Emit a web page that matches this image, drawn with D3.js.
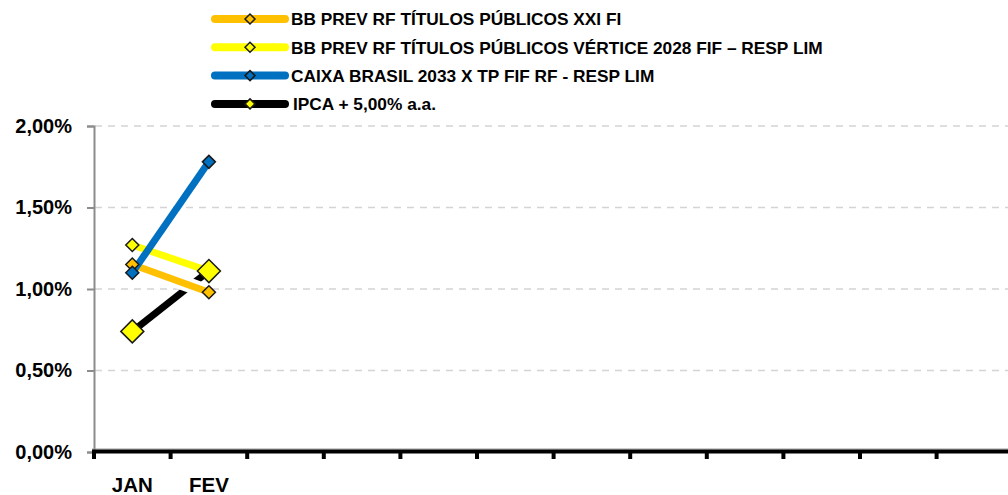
<!DOCTYPE html>
<html>
<head>
<meta charset="utf-8">
<script src="https://cdn.jsdelivr.net/npm/d3@7"></script>
<style>
  body { margin: 0; background: #fff; }
  text { font-family: "Liberation Sans", Arial, sans-serif; font-weight: bold; fill: #000; }
</style>
</head>
<body>
<svg id="chart" width="1008" height="495"></svg>
<script>
// months on the x axis, only the first two have labels / data so far
var months = ["JAN", "FEV", "MAR", "ABR", "MAI", "JUN", "JUL", "AGO", "SET", "OUT", "NOV", "DEZ"];
var monthLabels = ["JAN", "FEV", "", "", "", "", "", "", "", "", "", ""];

// monthly returns in %
var bbXXI = [1.15, 0.98];
var bbVertice2028 = [1.27, 1.11];
var caixa2033 = [1.10, 1.78];
var ipcaMeta = [0.74, 1.11];

var seriesNames = [
    "BB PREV RF TÍTULOS PÚBLICOS XXI FI",
    "BB PREV RF TÍTULOS PÚBLICOS VÉRTICE 2028 FIF – RESP LIM",
    "CAIXA BRASIL 2033 X TP FIF RF - RESP LIM",
    "IPCA + 5,00% a.a."
];
var yTicks = [0, 0.5, 1.0, 1.5, 2.0];

var svg = d3.select("#chart");

var x = d3.scaleBand().domain(months).range([94, 94 + 12 * 76.6]);
var y = d3.scaleLinear().domain([0, 2]).range([452, 126]);

// series table: drawn bottom to top
var series = [
    {name: seriesNames[3], values: ipcaMeta, color: "#000000", marker: "#FFFF00", big: true},
    {name: seriesNames[0], values: bbXXI, color: "#FFC000", marker: "#FFC000", big: false, halo: true},
    {name: seriesNames[1], values: bbVertice2028, color: "#FFFF00", marker: "#FFFF00", big: false},
    {name: seriesNames[2], values: caixa2033, color: "#0070C0", marker: "#0070C0", big: false}
];

// gridlines
svg.append("g").selectAll("line")
    .data(yTicks.slice(1))
    .enter().append("line")
    .attr("x1", 95).attr("x2", 1008)
    .attr("y1", function(d) { return y(d); })
    .attr("y2", function(d) { return y(d); })
    .attr("stroke", "#d4d4d4")
    .attr("stroke-width", 1.5)
    .attr("stroke-dasharray", "7,6");

// y axis
var yAxis = svg.append("g")
    .attr("transform", "translate(94,0)")
    .call(d3.axisLeft(y).tickValues(yTicks).tickSize(7).tickPadding(15)
        .tickFormat(function(d) { return d.toFixed(2).replace(".", ",") + "%"; }));
yAxis.selectAll("path, line").attr("stroke", "#8c8c8c").attr("stroke-width", 2);
yAxis.selectAll("text").style("font-size", "20px").style("font-family", "Liberation Sans, Arial, sans-serif").style("font-weight", "bold");

// x axis: thick black base line with ticks at the category boundaries
var xEdges = months.map(function(m) { return x(m); }).concat([x.range()[1]]);
svg.append("line")
    .attr("x1", 92).attr("x2", 1008)
    .attr("y1", 449).attr("y2", 449)
    .attr("stroke", "#9a9a9a").attr("stroke-width", 1);
svg.append("line")
    .attr("x1", 92).attr("x2", 1008)
    .attr("y1", 451.5).attr("y2", 451.5)
    .attr("stroke", "#000").attr("stroke-width", 4);
svg.append("g").selectAll("line")
    .data(xEdges)
    .enter().append("line")
    .attr("x1", function(d) { return d; })
    .attr("x2", function(d) { return d; })
    .attr("y1", 451).attr("y2", 459)
    .attr("stroke", "#000").attr("stroke-width", 4);

var xAxis = svg.append("g")
    .attr("transform", "translate(0,452)")
    .call(d3.axisBottom(x).tickSize(0).tickPadding(25)
        .tickFormat(function(d, i) { return monthLabels[i]; }));
xAxis.select(".domain").remove();
xAxis.selectAll("text").style("font-size", "20.5px").style("font-family", "Liberation Sans, Arial, sans-serif").style("font-weight", "bold");

// lines
var line = d3.line()
    .x(function(d, i) { return x(months[i]) + x.bandwidth() / 2; })
    .y(function(d) { return y(d); });

var lines = svg.append("g");
series.forEach(function(s) {
    if (s.halo) {
        // white edge under the line, hides the series drawn before it
        lines.append("path")
            .attr("d", line(s.values))
            .attr("fill", "none")
            .attr("stroke", "#fff")
            .attr("stroke-width", 15);
    }
    lines.append("path")
        .attr("d", line(s.values))
        .attr("fill", "none")
        .attr("stroke", s.color)
        .attr("stroke-width", 7);
});

// markers (small diamonds, then the big IPCA ones on top)
var diamond = function(r) { return "M0," + (-r) + "L" + r + ",0L0," + r + "L" + (-r) + ",0Z"; };
var markerOrder = series.slice(1).concat([series[0]]);
markerOrder.forEach(function(s) {
    svg.append("g").selectAll("path")
        .data(s.values)
        .enter().append("path")
        .attr("transform", function(d, i) {
            return "translate(" + (x(months[i]) + x.bandwidth() / 2) + "," + y(d) + ")";
        })
        .attr("d", diamond(s.big ? 11.5 : 6.5))
        .attr("fill", s.marker)
        .attr("stroke", "#1a1a1a")
        .attr("stroke-width", 1.5);
});

// legend
var legendOrder = [series[1], series[2], series[3], series[0]];
var legend = svg.append("g").selectAll("g")
    .data(legendOrder)
    .enter().append("g")
    .attr("transform", function(d, i) { return "translate(0," + (19 + i * 28.3) + ")"; });
legend.append("line")
    .attr("x1", 215).attr("x2", 285)
    .attr("stroke", function(d) { return d.color; })
    .attr("stroke-width", 8)
    .attr("stroke-linecap", "round");
legend.append("path")
    .attr("transform", "translate(250,0)")
    .attr("d", diamond(5))
    .attr("fill", function(d) { return d.marker; })
    .attr("stroke", "#1a1a1a")
    .attr("stroke-width", 1.5);
legend.append("text")
    .attr("x", function(d) { return d.big ? 293 : 291; })
    .attr("dy", "0.36em")
    .style("font-size", "17.3px")
    .text(function(d) { return d.name; });
</script>
</body>
</html>
